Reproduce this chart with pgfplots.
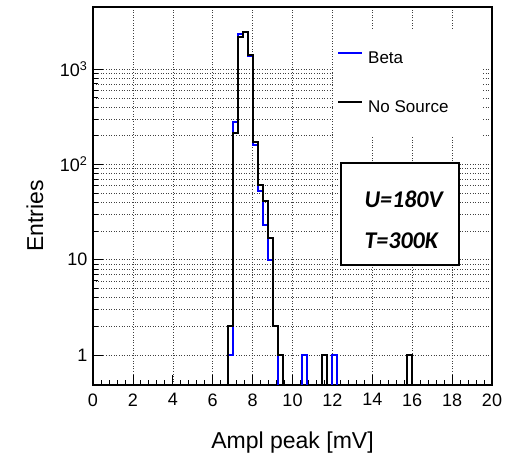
\documentclass[border=0pt]{standalone}
\usepackage{pgfplots}
\pgfplotsset{compat=1.18}
\usepackage{fontspec}
\setmainfont{Liberation Sans}
\newfontfamily\carlito{Carlito}
\definecolor{rootblue}{RGB}{0,0,255}
\begin{document}
\begin{tikzpicture}
\useasboundingbox (0,0) rectangle (514bp,459bp);
\begin{axis}[
  at={(93bp,74bp)}, anchor=south west,
  scale only axis, width=399bp, height=378bp,
  ymode=log, xmin=0, xmax=20, ymin=0.485, ymax=4485,
  xtick={0,2,...,20}, minor x tick num=4,
  ytick={1,10,100,1000},
  yticklabels={1,10,10\textsuperscript{2},10\textsuperscript{3}},
  tick align=inside, xtick pos=bottom, ytick pos=left,
  major tick length=10bp, minor tick length=5bp,
  tick style={line width=0.8bp, black},
  axis line style={line width=1.3bp},
  xmajorgrids=true, ymajorgrids=true, yminorgrids=true,
  grid style={line width=0.6bp, black!75, dash pattern=on 1bp off 1.6bp},
  minor grid style={line width=0.6bp, black!75, dash pattern=on 1bp off 1.6bp},
  /pgf/number format/assume math mode=true,
  xticklabel style={font=\fontsize{18bp}{20bp}\selectfont, yshift=-5bp},
  yticklabel style={font=\fontsize{18bp}{20bp}\selectfont, xshift=-2bp},
  xlabel={Ampl peak [mV]},
  xlabel style={at={(axis description cs:0.5,-0.1667)}, anchor=base, font=\fontsize{23bp}{26bp}\selectfont},
  ylabel={Entries},
  ylabel style={at={(axis description cs:-0.1454,0.447)}, anchor=center, font=\fontsize{23bp}{26bp}\selectfont},
  legend style={at={(axis description cs:0.6015,0.939)}, anchor=north west,
    draw=none, fill=white, inner xsep=4bp, inner ysep=20bp,
    row sep=31.5bp, font=\fontsize{17bp}{20bp}\selectfont,
    /tikz/every odd column/.append style={column sep=3bp}},
  legend cell align=left,
  legend image code/.code={\draw[#1] (0bp,6bp) -- (24bp,6bp);},
]
\addplot[const plot mark left, rootblue, line width=2bp] coordinates {
(0,0.1) (6.75,1) (7.0,281) (7.25,2335) (7.5,2460) (7.75,1372) (8.0,160)
(8.25,52) (8.5,23) (8.75,10) (9.0,2) (9.25,0.1) (10.5,1) (10.75,0.1)
(12.0,1) (12.25,0.1) (20,0.1)};
\addlegendentry{Beta}
\addplot[const plot mark left, black, line width=2bp] coordinates {
(0,0.1) (6.75,2) (7.0,212) (7.25,2153) (7.5,2480) (7.75,1422) (8.0,173)
(8.25,61) (8.5,41) (8.75,17) (9.0,2) (9.25,1) (9.5,0.1) (11.5,1) (11.75,0.1)
(15.75,1) (16.0,0.1) (20,0.1)};
\addlegendentry{No Source\hspace*{26bp}}
\node[draw, line width=1.5bp, fill=white, minimum width=118bp, minimum height=102bp, inner sep=0pt]
  at (axis description cs:0.7694,0.4526) {};
\node[anchor=west, font=\fontsize{24bp}{26bp}\carlito\bfseries\itshape]
  at (axis description cs:0.6717,0.492) {U=180V};
\node[anchor=west, font=\fontsize{24bp}{26bp}\carlito\bfseries\itshape]
  at (axis description cs:0.6717,0.3815) {T=300K};
\end{axis}
\end{tikzpicture}
\end{document}
